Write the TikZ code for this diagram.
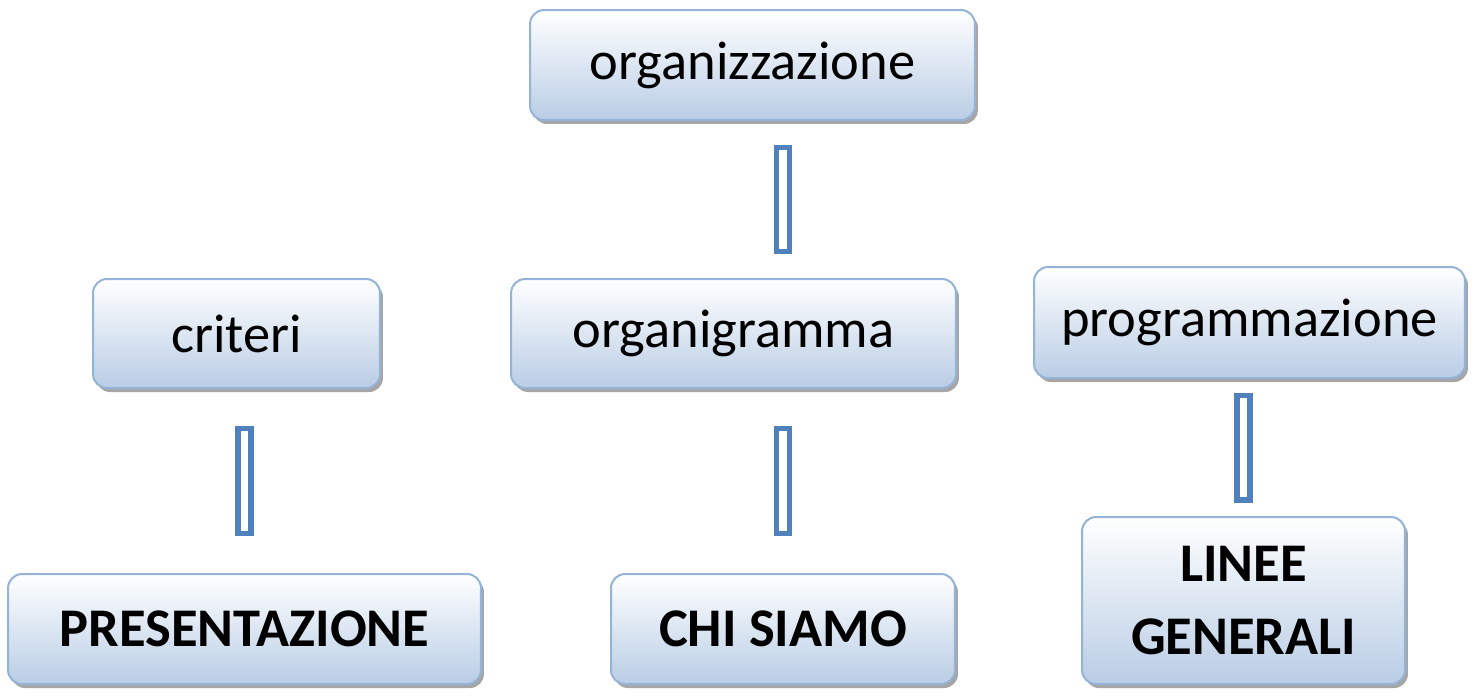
\documentclass[tikz,border=0pt]{standalone}
\usepackage{fontspec}
\setmainfont{Carlito}
\usetikzlibrary{shadows}

\definecolor{boxline}{HTML}{95B3D7}
\definecolor{boxfill}{HTML}{B9CDE5}
\definecolor{pipeblue}{HTML}{4F81BD}

\tikzset{
	box/.style = {draw = boxline, line width = 0.04cm, rounded corners = 0.28cm,
		top color = white, bottom color = boxfill, align = center,
		font = \fontsize{31}{41}\selectfont, inner sep = 0pt,
		drop shadow = {shadow xshift = 0.06cm, shadow yshift = -0.08cm, fill = black, opacity = 0.35}},
	bbox/.style = {box, font = \fontsize{31}{41}\selectfont\bfseries},
	pipe/.style = {draw = pipeblue, line width = 0.37cm, shorten <= #1, shorten >= #1,
		postaction = {draw = white, line width = 0.15cm, shorten <= #1+0.11cm, shorten >= #1+0.11cm}}
}

\begin{document}
\begin{tikzpicture}[x = 0.02cm, y = -0.02cm]
	\useasboundingbox (0,0) rectangle (1479,698);
	\node[box, minimum width = 8.9cm, minimum height = 2.2cm] (org) at (752.5,65) {organizzazione};
	\node[box, minimum width = 5.74cm, minimum height = 2.18cm] (crit) at (236.5,333.5) {criteri};
	\node[box, minimum width = 8.9cm, minimum height = 2.18cm] (orgram) at (733.5,333.5) {organigramma};
	\node[box, minimum width = 8.62cm, minimum height = 2.22cm] (prog) at (1249.5,322.5) {programmazione};
	\node[bbox, minimum width = 9.46cm, minimum height = 2.2cm] (pres) at (244.5,629) {PRESENTAZIONE};
	\node[bbox, minimum width = 6.88cm, minimum height = 2.2cm] (chi) at (783,629) {CHI SIAMO};
	\node[bbox, minimum width = 6.46cm, minimum height = 3.34cm] (linee) at (1243.5,600.5) {LINEE\\GENERALI};
	\draw[pipe = 0.48cm] (org.south -| chi.north) -- (orgram.north -| chi.north);
	\draw[pipe = 0.74cm] (crit.south -| pres.north) -- (pres.north);
	\draw[pipe = 0.74cm] (orgram.south -| chi.north) -- (chi.north);
	\draw[pipe = 0.27cm] (prog.south -| linee.north) -- (linee.north);
\end{tikzpicture}
\end{document}
